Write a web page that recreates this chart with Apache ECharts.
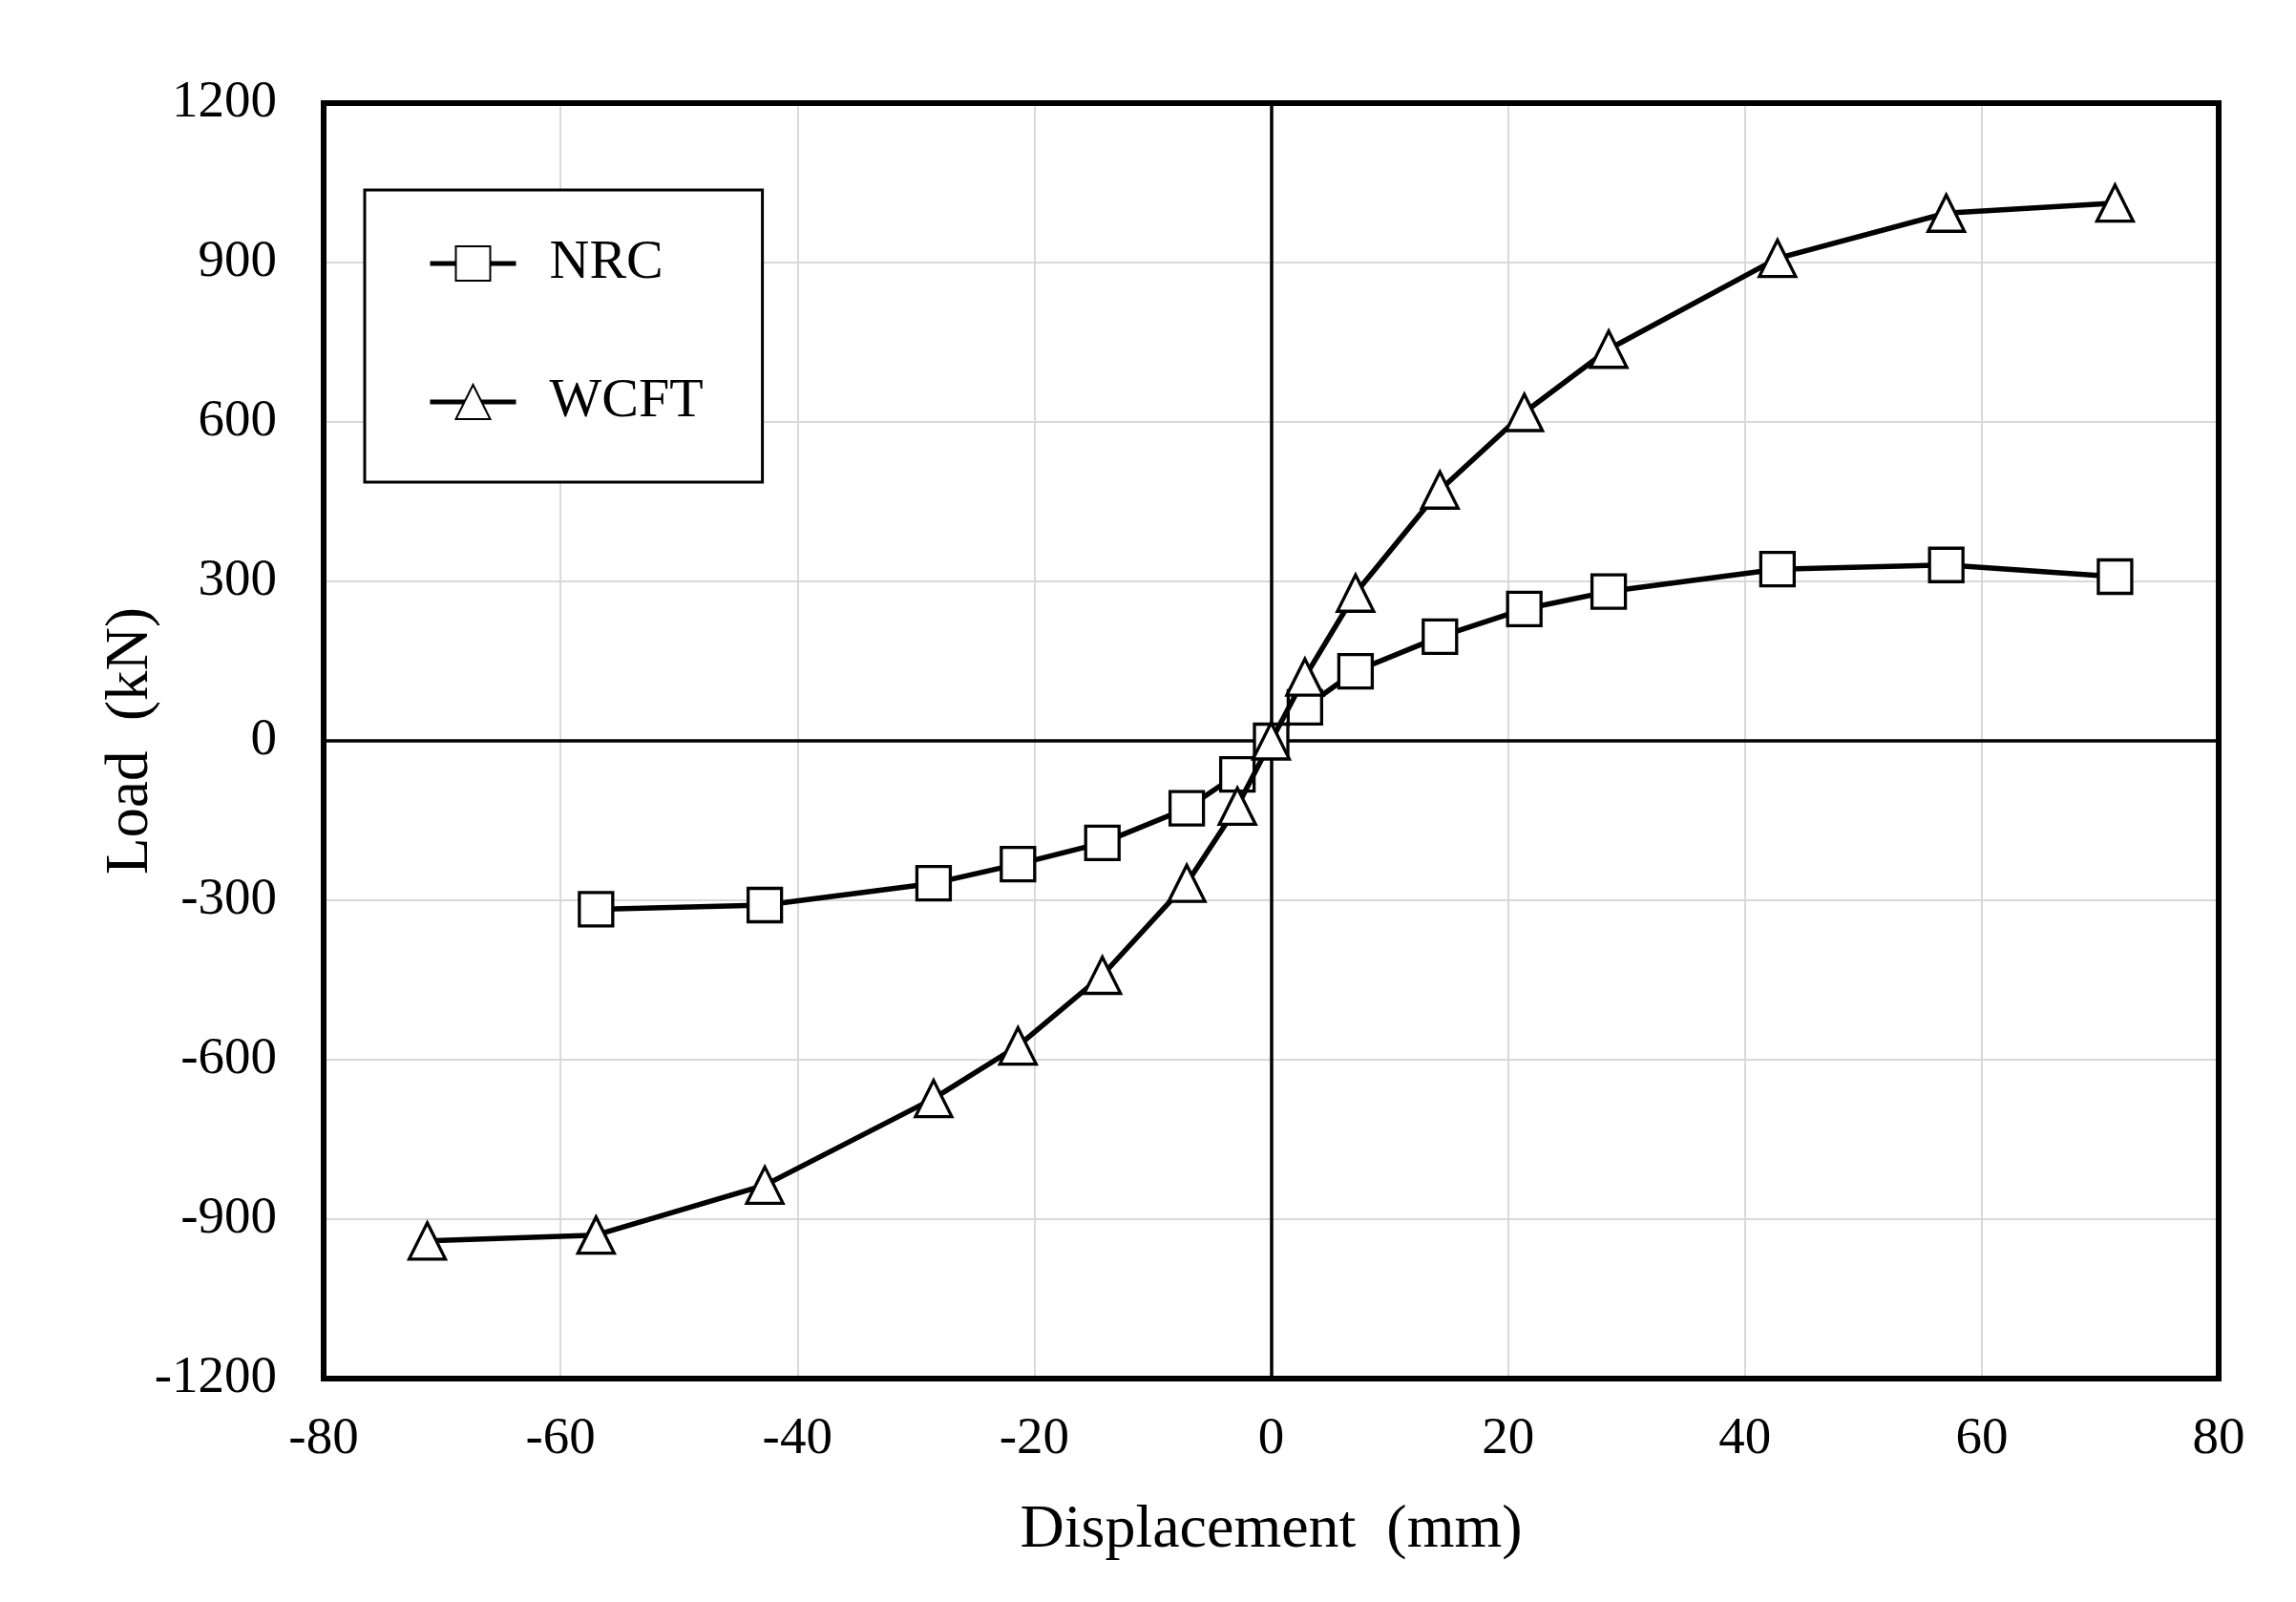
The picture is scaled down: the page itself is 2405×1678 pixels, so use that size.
<!DOCTYPE html>
<html>
<head>
<meta charset="utf-8">
<script src="https://cdn.jsdelivr.net/npm/echarts@6/dist/echarts.min.js"></script>
<style>html,body{margin:0;padding:0;background:#fff;}#c{width:2405px;height:1678px;}</style>
</head>
<body>
<div id="c"></div>
<script>
const seriesNames = ['NRC', 'WCFT'];
const nrcX = [-57, -42.75, -28.5, -21.375, -14.25, -7.125, -2.85, 0, 2.85, 7.125, 14.25, 21.375, 28.5, 42.75, 57, 71.25];
const nrcY = [-317, -309, -268, -232, -192, -127, -63, 0, 63, 131, 196, 248, 281, 323, 331, 309];
const wcftX = [-71.25, -57, -42.75, -28.5, -21.375, -14.25, -7.125, -2.85, 0, 2.85, 7.125, 14.25, 21.375, 28.5, 42.75, 57, 71.25];
const wcftY = [-941, -930, -836, -673, -574, -441, -268, -123, 0, 120, 278, 472, 618, 737, 908, 993, 1012];
const xTicks = { min: -80, max: 80, interval: 20 };
const yTicks = { min: -1200, max: 1200, interval: 300 };
const axisTitles = { x: 'Displacement  (mm)', y: 'Load  (kN)' };

const FONT = '"Liberation Serif", "Times New Roman", serif';
const pairs = (xs, ys) => xs.map((x, i) => [x, ys[i]]);

const chart = echarts.init(document.getElementById('c'), null, { renderer: 'canvas' });
chart.setOption({
  animation: false,
  backgroundColor: '#ffffff',
  grid: {
    left: 339, right: 81, top: 108, bottom: 234,
    show: true, borderColor: '#000', borderWidth: 6, backgroundColor: 'transparent', z: 5
  },
  legend: {
    orient: 'vertical',
    left: 382, top: 199,
    padding: [48, 62, 55, 66],
    itemGap: 87,
    itemWidth: 90,
    itemHeight: 45,
    borderColor: '#000',
    borderWidth: 3,
    backgroundColor: '#fff',
    lineStyle: { width: 5 },
    textStyle: { fontFamily: FONT, fontSize: 58, color: '#000', padding: [0, 0, 0, 30] },
    data: seriesNames
  },
  xAxis: {
    type: 'value',
    min: xTicks.min, max: xTicks.max, interval: xTicks.interval,
    name: axisTitles.x, nameLocation: 'middle', nameGap: 127,
    nameTextStyle: { fontFamily: FONT, fontSize: 64, color: '#000' },
    axisLine: { show: false },
    axisTick: { show: false },
    axisLabel: { fontFamily: FONT, fontSize: 55, color: '#000', margin: 36 },
    splitLine: { show: true, lineStyle: { color: '#d9d9d9', width: 2 } }
  },
  yAxis: {
    type: 'value',
    min: yTicks.min, max: yTicks.max, interval: yTicks.interval,
    name: axisTitles.y, nameLocation: 'middle', nameGap: 170, nameRotate: 90,
    nameMoveOverlap: false,
    nameTextStyle: { fontFamily: FONT, fontSize: 63, color: '#000' },
    axisLine: { show: false },
    axisTick: { show: false },
    axisLabel: { fontFamily: FONT, fontSize: 55, color: '#000', margin: 49, formatter: v => String(v) },
    splitLine: { show: true, lineStyle: { color: '#d9d9d9', width: 2 } }
  },
  series: [
    {
      name: seriesNames[0],
      type: 'line',
      data: pairs(nrcX, nrcY),
      symbol: 'rect',
      symbolSize: 35,
      lineStyle: { color: '#000', width: 5.5 },
      itemStyle: { color: '#fff', borderColor: '#000', borderWidth: 3.3 },
      z: 3,
      markLine: {
        silent: true,
        symbol: 'none',
        label: { show: false },
        lineStyle: { color: '#000', width: 3.5, type: 'solid' },
        data: [{ xAxis: 0 }, { yAxis: 0 }],
        z: 2
      }
    },
    {
      name: seriesNames[1],
      type: 'line',
      data: pairs(wcftX, wcftY),
      symbol: 'triangle',
      symbolSize: [38, 38],
      lineStyle: { color: '#000', width: 5.5 },
      itemStyle: { color: '#fff', borderColor: '#000', borderWidth: 3.3 },
      z: 4
    }
  ]
});
</script>
</body>
</html>
